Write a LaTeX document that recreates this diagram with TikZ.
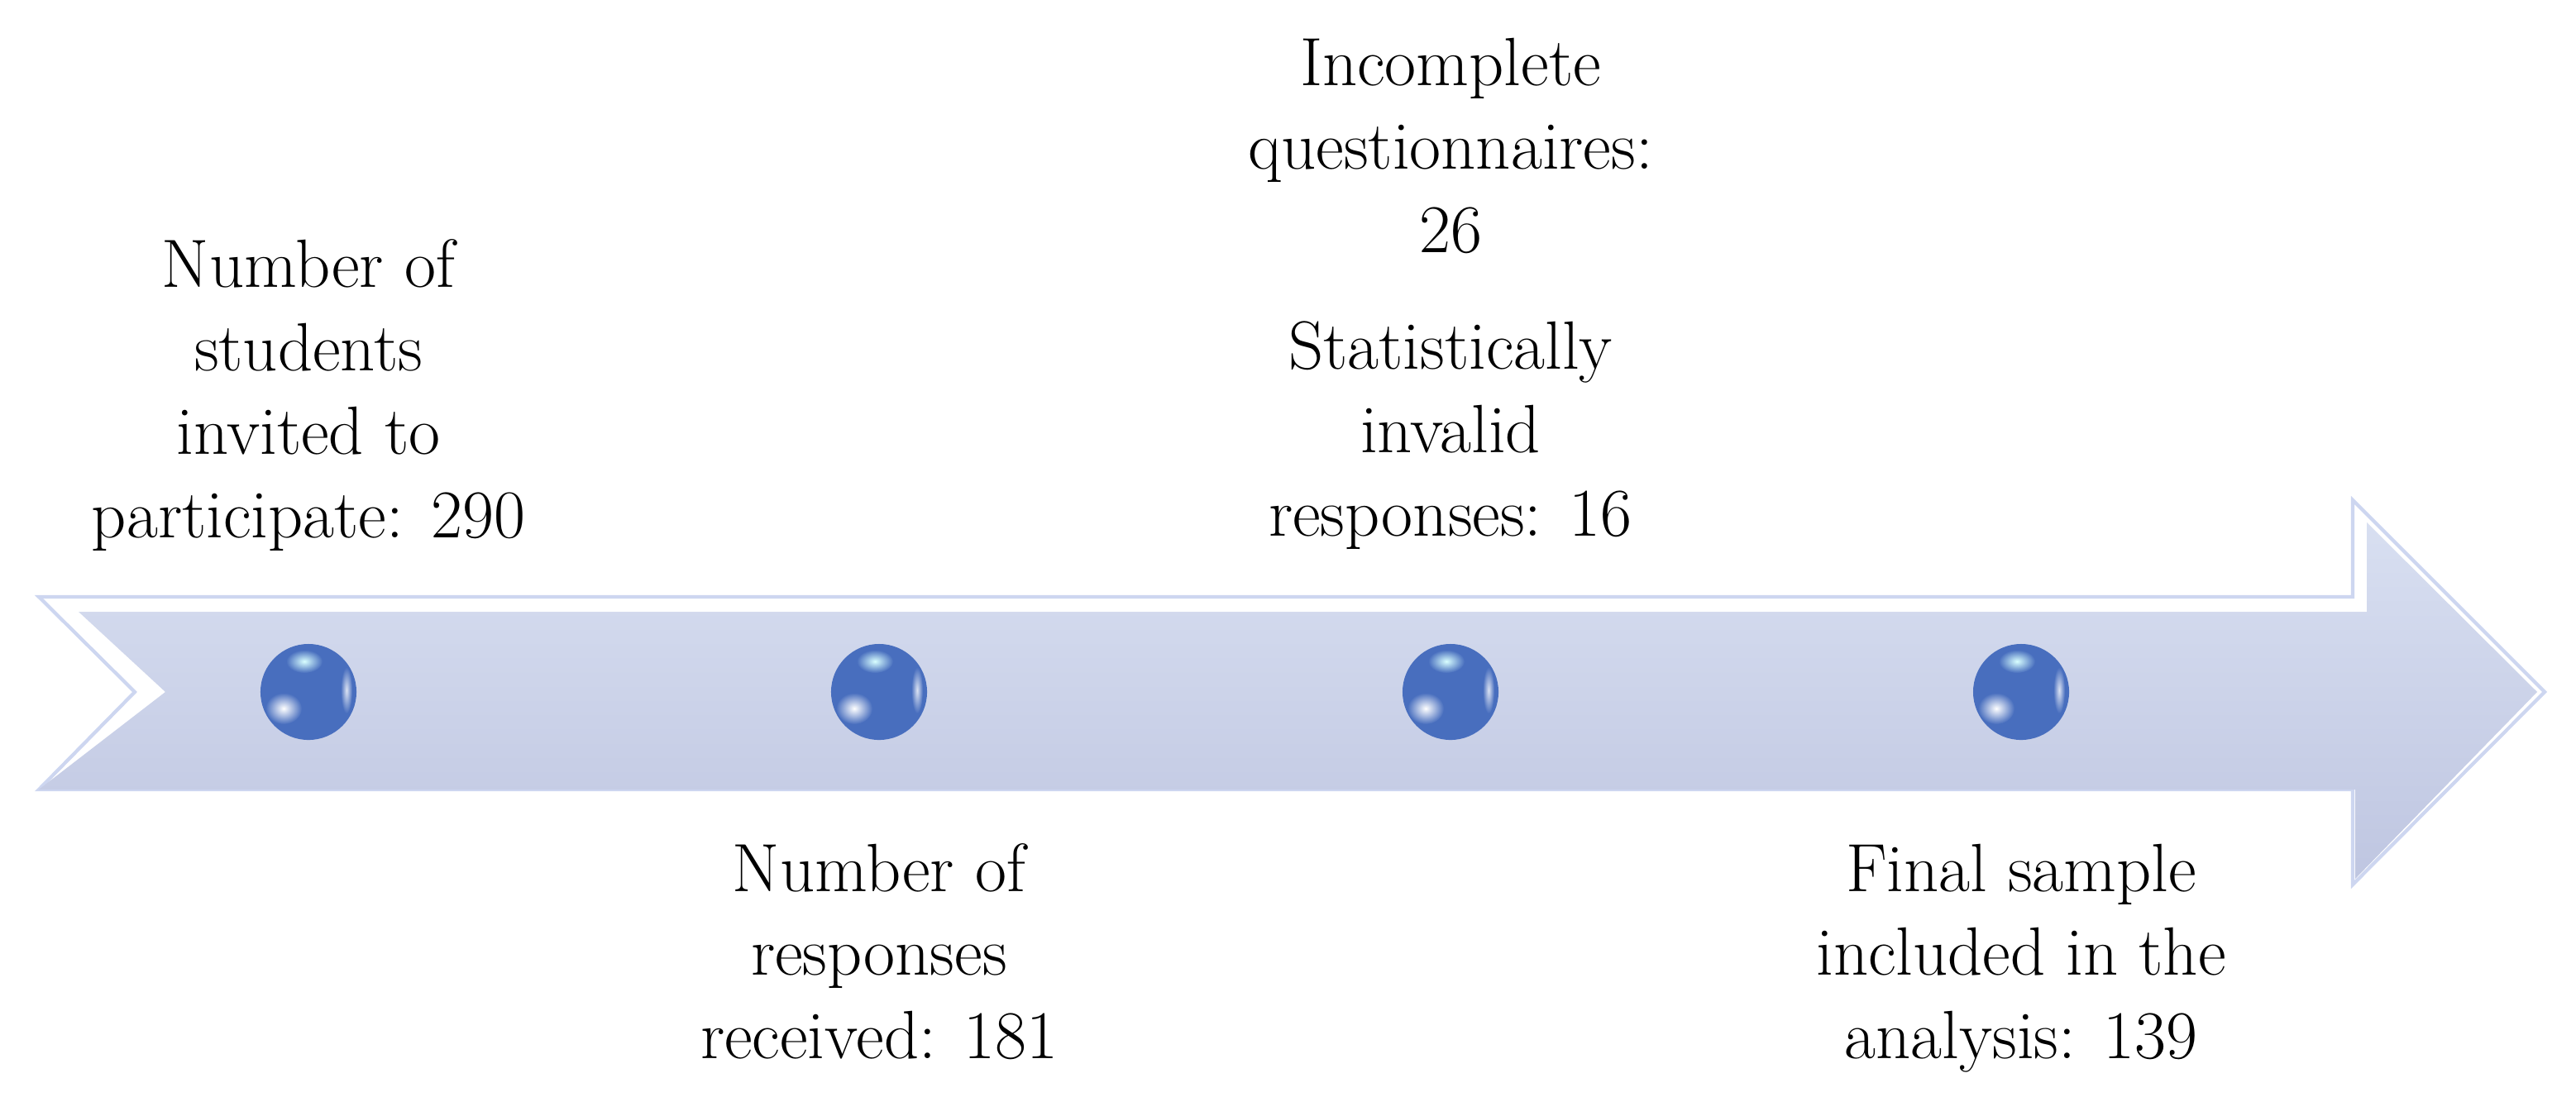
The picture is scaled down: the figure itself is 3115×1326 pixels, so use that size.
\documentclass[tikz,border=0pt]{standalone}
\usepackage{tikz}
\usetikzlibrary{calc}
\definecolor{arrowedge}{RGB}{205,214,240}
\definecolor{arrowtop}{RGB}{216,223,241}
\definecolor{arrowbot}{RGB}{191,198,225}
\definecolor{spherecol}{RGB}{72,110,190}
\begin{document}
\begin{tikzpicture}[x=0.01cm,y=-0.01cm,
    label/.style={align=center,inner sep=0pt,anchor=base,
      font=\fontsize{23.5}{28.7}\selectfont},
    sphere/.style={circle,minimum size=1.16cm,inner sep=0pt,fill=spherecol}]
    \useasboundingbox (0,0) rectangle (3115,1326);
    %% arrow body
    \draw[arrowedge,fill=white,line width=1.2pt] (47,722) -- (2845,722) -- (2845,605) -- (3077,837)
        -- (2845,1070) -- (2845,955) -- (47,955) -- (163,837) -- cycle;
    \shade[top color=arrowtop,bottom color=arrowbot] (95,740) -- (2862,740) -- (2862,632) -- (3068,837)
        -- (2848,1063) -- (2848,955) -- (47,955) -- (200,837) -- cycle;
    \fill[white,opacity=0.6] (60,726) -- (2845,726) -- (2862,740) -- (95,740) -- cycle;
    %% spheres on the arrow
    \foreach \i/\x in {1/373,2/1063,3/1754,4/2444} {
      \node[sphere] (s\i) at (\x,837) {};
      \shade[inner color=white!85!cyan,outer color=spherecol] ($(s\i)+(-5,-37)$) ellipse (22 and 14);
      \shade[inner color=white,outer color=spherecol] ($(s\i)+(-30,20)$) ellipse (22 and 19);
      \shade[inner color=white!80!spherecol,outer color=spherecol] ($(s\i)+(46,-2)$) ellipse (7 and 28);
    }
    %% labels
    \node[label] (t1) at (s1 |- 0,650) {Number of\\students\\invited to\\participate: 290};
    \node[label] (t2) at (s2 |- 0,1280) {Number of\\responses\\received: 181};
    \node[label] (t3) at (s3 |- 0,648) {Incomplete\\questionnaires:\\26\\[0.4cm]Statistically\\invalid\\responses: 16};
    \node[label] (t4) at (s4 |- 0,1280) {Final sample\\included in the\\analysis: 139};
\end{tikzpicture}
\end{document}
